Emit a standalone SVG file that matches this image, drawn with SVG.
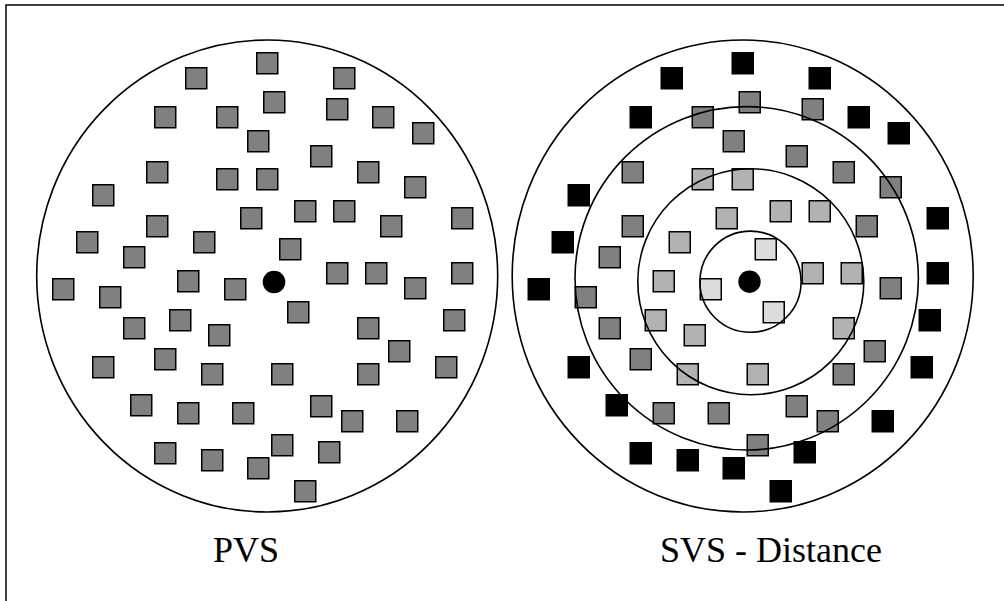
<svg xmlns="http://www.w3.org/2000/svg" width="1004" height="601" viewBox="0 0 1004 601">
<style>
.sq{stroke:#000;stroke-width:1.5}
.g{fill:#808080}
.b{fill:#000}
.l{fill:#b2b2b2}
.x{fill:#dcdcdc}
.ring{fill:none;stroke:#000;stroke-width:1.6}
.lbl{font-family:"Liberation Serif","Times New Roman",serif;font-size:36px;fill:#000}
</style>
<defs>
<rect id="s" width="21" height="21"/>
</defs>
<rect x="6" y="5" width="1010" height="620" fill="#fff" stroke="#000" stroke-width="1.5"/>

<g id="pvs">
<g id="pvs-squares" class="sq g">
<use href="#s" x="185.75" y="67.75"/>
<use href="#s" x="256.75" y="52.75"/>
<use href="#s" x="263.75" y="91.75"/>
<use href="#s" x="154.75" y="106.75"/>
<use href="#s" x="216.75" y="106.75"/>
<use href="#s" x="247.75" y="130.75"/>
<use href="#s" x="146.75" y="161.75"/>
<use href="#s" x="216.75" y="168.75"/>
<use href="#s" x="256.75" y="168.75"/>
<use href="#s" x="92.75" y="184.75"/>
<use href="#s" x="240.75" y="207.75"/>
<use href="#s" x="146.75" y="215.75"/>
<use href="#s" x="76.75" y="231.75"/>
<use href="#s" x="193.75" y="231.75"/>
<use href="#s" x="123.75" y="246.75"/>
<use href="#s" x="52.75" y="278.75"/>
<use href="#s" x="177.75" y="270.75"/>
<use href="#s" x="224.75" y="278.75"/>
<use href="#s" x="333.75" y="67.75"/>
<use href="#s" x="326.75" y="98.75"/>
<use href="#s" x="372.75" y="106.75"/>
<use href="#s" x="412.75" y="122.75"/>
<use href="#s" x="310.75" y="145.75"/>
<use href="#s" x="357.75" y="161.75"/>
<use href="#s" x="404.75" y="176.75"/>
<use href="#s" x="294.75" y="200.75"/>
<use href="#s" x="333.75" y="200.75"/>
<use href="#s" x="380.75" y="215.75"/>
<use href="#s" x="451.75" y="207.75"/>
<use href="#s" x="279.75" y="238.75"/>
<use href="#s" x="326.75" y="262.75"/>
<use href="#s" x="365.75" y="262.75"/>
<use href="#s" x="404.75" y="277.75"/>
<use href="#s" x="451.75" y="262.75"/>
<use href="#s" x="99.75" y="286.75"/>
<use href="#s" x="123.75" y="317.75"/>
<use href="#s" x="169.75" y="309.75"/>
<use href="#s" x="208.75" y="324.75"/>
<use href="#s" x="92.75" y="356.75"/>
<use href="#s" x="154.75" y="348.75"/>
<use href="#s" x="201.75" y="363.75"/>
<use href="#s" x="271.75" y="363.75"/>
<use href="#s" x="130.75" y="394.75"/>
<use href="#s" x="177.75" y="402.75"/>
<use href="#s" x="232.75" y="402.75"/>
<use href="#s" x="154.75" y="442.75"/>
<use href="#s" x="201.75" y="449.75"/>
<use href="#s" x="247.75" y="457.75"/>
<use href="#s" x="271.75" y="434.75"/>
<use href="#s" x="287.75" y="301.75"/>
<use href="#s" x="357.75" y="317.75"/>
<use href="#s" x="388.75" y="340.75"/>
<use href="#s" x="443.75" y="309.75"/>
<use href="#s" x="357.75" y="363.75"/>
<use href="#s" x="435.75" y="356.75"/>
<use href="#s" x="310.75" y="395.75"/>
<use href="#s" x="341.75" y="410.75"/>
<use href="#s" x="396.75" y="410.75"/>
<use href="#s" x="318.75" y="441.75"/>
<use href="#s" x="294.75" y="480.75"/>
</g>
<ellipse class="ring" cx="267.2" cy="276" rx="230.5" ry="236"/>
<circle cx="274" cy="282" r="11.3" fill="#000"/>
<text class="lbl" x="213" y="561.7">PVS</text>
</g>

<g id="svs">
<g id="svs-squares" class="sq" transform="translate(475.5,0)">
<use href="#s" class="b" x="185.75" y="67.75"/>
<use href="#s" class="b" x="256.75" y="52.75"/>
<use href="#s" class="g" x="263.75" y="91.75"/>
<use href="#s" class="b" x="154.75" y="106.75"/>
<use href="#s" class="g" x="216.75" y="106.75"/>
<use href="#s" class="g" x="247.75" y="130.75"/>
<use href="#s" class="g" x="146.75" y="161.75"/>
<use href="#s" class="l" x="216.75" y="168.75"/>
<use href="#s" class="l" x="256.75" y="168.75"/>
<use href="#s" class="b" x="92.75" y="184.75"/>
<use href="#s" class="l" x="240.75" y="207.75"/>
<use href="#s" class="g" x="146.75" y="215.75"/>
<use href="#s" class="b" x="76.75" y="231.75"/>
<use href="#s" class="l" x="193.75" y="231.75"/>
<use href="#s" class="g" x="123.75" y="246.75"/>
<use href="#s" class="b" x="52.75" y="278.75"/>
<use href="#s" class="l" x="177.75" y="270.75"/>
<use href="#s" class="x" x="224.75" y="278.75"/>
<use href="#s" class="b" x="333.75" y="67.75"/>
<use href="#s" class="g" x="326.75" y="98.75"/>
<use href="#s" class="b" x="372.75" y="106.75"/>
<use href="#s" class="b" x="412.75" y="122.75"/>
<use href="#s" class="g" x="310.75" y="145.75"/>
<use href="#s" class="g" x="357.75" y="161.75"/>
<use href="#s" class="g" x="404.75" y="176.75"/>
<use href="#s" class="l" x="294.75" y="200.75"/>
<use href="#s" class="l" x="333.75" y="200.75"/>
<use href="#s" class="g" x="380.75" y="215.75"/>
<use href="#s" class="b" x="451.75" y="207.75"/>
<use href="#s" class="x" x="279.75" y="238.75"/>
<use href="#s" class="l" x="326.75" y="262.75"/>
<use href="#s" class="l" x="365.75" y="262.75"/>
<use href="#s" class="g" x="404.75" y="277.75"/>
<use href="#s" class="b" x="451.75" y="262.75"/>
<use href="#s" class="g" x="99.75" y="286.75"/>
<use href="#s" class="g" x="123.75" y="317.75"/>
<use href="#s" class="l" x="169.75" y="309.75"/>
<use href="#s" class="l" x="208.75" y="324.75"/>
<use href="#s" class="b" x="92.75" y="356.75"/>
<use href="#s" class="g" x="154.75" y="348.75"/>
<use href="#s" class="l" x="201.75" y="363.75"/>
<use href="#s" class="l" x="271.75" y="363.75"/>
<use href="#s" class="b" x="130.75" y="394.75"/>
<use href="#s" class="g" x="177.75" y="402.75"/>
<use href="#s" class="g" x="232.75" y="402.75"/>
<use href="#s" class="b" x="154.75" y="442.75"/>
<use href="#s" class="b" x="201.75" y="449.75"/>
<use href="#s" class="b" x="247.75" y="457.75"/>
<use href="#s" class="g" x="271.75" y="434.75"/>
<use href="#s" class="x" x="287.75" y="301.75"/>
<use href="#s" class="l" x="357.75" y="317.75"/>
<use href="#s" class="g" x="388.75" y="340.75"/>
<use href="#s" class="b" x="443.75" y="309.75"/>
<use href="#s" class="g" x="357.75" y="363.75"/>
<use href="#s" class="b" x="435.75" y="356.75"/>
<use href="#s" class="g" x="310.75" y="395.75"/>
<use href="#s" class="g" x="341.75" y="410.75"/>
<use href="#s" class="b" x="396.75" y="410.75"/>
<use href="#s" class="b" x="318.75" y="441.75"/>
<use href="#s" class="b" x="294.75" y="480.75"/>
</g>
<ellipse class="ring" cx="742.7" cy="276" rx="230.5" ry="236"/>
<circle class="ring" cx="746.7" cy="278.3" r="171.7"/>
<circle class="ring" cx="750.8" cy="281.7" r="113"/>
<circle class="ring" cx="750.5" cy="281.7" r="50.6"/>
<circle cx="749.5" cy="281.7" r="11.2" fill="#000"/>
<text class="lbl" x="660" y="561.7">SVS - Distance</text>
</g>
</svg>
